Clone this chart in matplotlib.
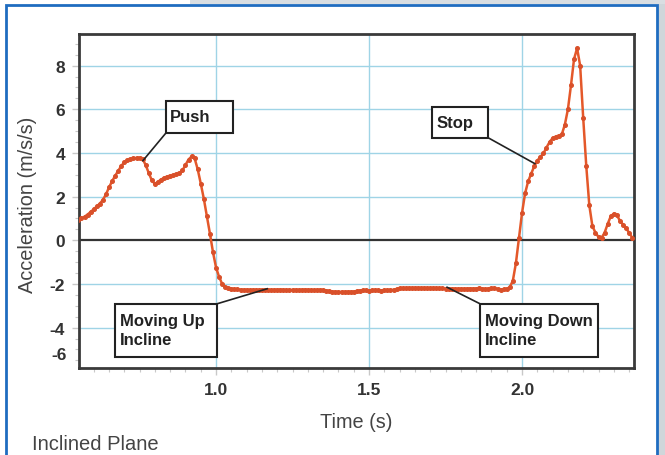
import matplotlib
matplotlib.use("Agg")
import matplotlib.pyplot as plt
from matplotlib.patches import Rectangle
from matplotlib.ticker import MultipleLocator
import matplotlib.transforms as mtransforms

plt.rcParams['font.family'] = ['Liberation Sans', 'DejaVu Sans']

# ---- data (sampled every 0.01 s starting at 0.55 s) ----
t_start = 0.55
t_step = 0.01
accel = [
    0.92, 1.00, 1.08, 1.18, 1.30, 1.42, 1.55, 1.68, 1.85, 2.10,   # 0.55-0.64
    2.42, 2.70, 2.95, 3.18, 3.40, 3.58, 3.66, 3.72, 3.75, 3.77,   # 0.65-0.74
    3.78, 3.72, 3.45, 3.08, 2.75, 2.58, 2.68, 2.78, 2.86, 2.92,   # 0.75-0.84
    2.96, 2.98, 3.02, 3.08, 3.20, 3.45, 3.70, 3.84, 3.75, 3.25,   # 0.85-0.94
    2.60, 1.90, 1.10, 0.30, -0.55, -1.25, -1.68, -2.00, -2.13, -2.19,  # 0.95-1.04
    -2.22, -2.24, -2.25, -2.26, -2.27, -2.27, -2.28, -2.27, -2.27, -2.28,  # 1.05-1.14
    -2.27, -2.26, -2.27, -2.28, -2.27, -2.27, -2.26, -2.27, -2.28, -2.28,  # 1.15-1.24
    -2.27, -2.27, -2.28, -2.27, -2.26, -2.27, -2.28, -2.29, -2.28, -2.27,  # 1.25-1.34
    -2.28, -2.30, -2.34, -2.36, -2.36, -2.37, -2.36, -2.37, -2.36, -2.36,  # 1.35-1.44
    -2.35, -2.33, -2.30, -2.29, -2.29, -2.30, -2.29, -2.28, -2.29, -2.30,  # 1.45-1.54
    -2.29, -2.29, -2.28, -2.27, -2.24, -2.20, -2.19, -2.19, -2.18, -2.19,  # 1.55-1.64
    -2.18, -2.18, -2.19, -2.18, -2.19, -2.19, -2.18, -2.19, -2.20, -2.20,  # 1.65-1.74
    -2.21, -2.21, -2.22, -2.22, -2.23, -2.22, -2.23, -2.22, -2.21, -2.22,  # 1.75-1.84
    -2.21, -2.20, -2.21, -2.24, -2.22, -2.20, -2.19, -2.22, -2.27, -2.25,  # 1.85-1.94
    -2.22, -2.15, -1.85, -1.05, 0.10, 1.25, 2.15, 2.70, 3.05, 3.40,  # 1.95-2.04
    3.65, 3.82, 3.98, 4.25, 4.50, 4.68, 4.75, 4.80, 4.85, 5.30,   # 2.05-2.14
    6.00, 7.10, 8.30, 8.80, 8.00, 5.60, 3.40, 1.60, 0.65, 0.35,   # 2.15-2.24
    0.15, 0.12, 0.35, 0.75, 1.10, 1.22, 1.15, 0.90, 0.72, 0.55,   # 2.25-2.34
    0.35, 0.12,                                                     # 2.35-2.36
]
time = [round(t_start + i * t_step, 2) for i in range(len(accel))]

x_ticks = [1.0, 1.5, 2.0]
x_tick_labels = ["1.0", "1.5", "2.0"]
y_ticks = [-4, -2, 0, 2, 4, 6, 8]
y_tick_labels = ["-4", "-2", "0", "2", "4", "6", "8"]

# callouts: text, pointed data point, box (t0, t1, a0, a1), text anchor, leader start
callout_text = ["Push", "Stop", "Moving Up\nIncline", "Moving Down\nIncline"]
callout_point = [(0.761, 3.65), (2.042, 3.51), (1.167, -2.22), (1.755, -2.15)]
callout_box = [(0.837, 1.056, 4.93, 6.40), (1.706, 1.889, 4.70, 6.12),
               (0.670, 1.003, -5.34, -2.91), (1.863, 2.248, -5.34, -2.91)]
callout_text_pos = [(0.850, 5.67), (1.722, 5.39), (0.686, -4.11), (1.879, -4.11)]
callout_leader_start = [(0.837, 4.93), (1.889, 4.70), (1.003, -2.91), (1.863, -2.91)]

# ---- figure ----
fig = plt.figure(figsize=(6.65, 4.56), dpi=100)
fig.patch.set_facecolor("white")

fig.add_artist(Rectangle((658 / 665, 0), 7 / 665, 1, transform=fig.transFigure,
                         facecolor="#cfd6da", edgecolor="none", zorder=0))
fig.add_artist(Rectangle((190 / 665, 451 / 456), 475 / 665, 5 / 456, transform=fig.transFigure,
                         facecolor="#d9dee2", edgecolor="none", zorder=0))
fig.add_artist(Rectangle((6 / 665, -0.02), 651 / 665, (450 / 456) + 0.02,
                         transform=fig.transFigure, facecolor="none",
                         edgecolor="#1f6cc0", linewidth=2.0, zorder=1))

ax = fig.add_axes([79 / 665, (456 - 369) / 456, (634 - 79) / 665, (369 - 35) / 456])
ax.set_xlim(0.552, 2.366)
ax.set_ylim(-5.85, 9.45)

grid_col = "#9fd4e6"
for xv in x_ticks:
    ax.axvline(xv, color=grid_col, linewidth=1.0, zorder=1)
for yv in y_ticks + [-6]:
    if yv != 0:
        ax.axhline(yv, color=grid_col, linewidth=1.0, zorder=1)
ax.axhline(0, color="#333333", linewidth=1.6, zorder=2)

ax.plot(time, accel, color="#e4582a", linewidth=1.8, marker="o", markersize=2.6,
        markerfacecolor="#d9502a", markeredgecolor="#d9502a", zorder=3)

for sp in ax.spines.values():
    sp.set_color("#3a3a3a")
    sp.set_linewidth(2.0)

ax.set_xticks(x_ticks)
ax.set_xticklabels(x_tick_labels)
ax.set_yticks(y_ticks)
ax.set_yticklabels(y_tick_labels)
ax.xaxis.set_minor_locator(MultipleLocator(0.05))
ax.yaxis.set_minor_locator(MultipleLocator(0.5))
ax.tick_params(axis="both", which="both", direction="out", color="#c8c8c8")
ax.tick_params(axis="both", which="major", length=5, width=1, labelsize=12.5,
               labelcolor="#333333", pad=5)
ax.tick_params(axis="both", which="minor", length=3, width=0.8)
for lab in ax.get_xticklabels() + ax.get_yticklabels():
    lab.set_fontweight("bold")

trans = mtransforms.blended_transform_factory(ax.transAxes, ax.transData)
ax.text(-0.022, -5.25, "-6", transform=trans, ha="right", va="center",
        fontsize=12.5, fontweight="bold", color="#333333")

fig.text(356 / 665, 1 - 423 / 456, "Time (s)", ha="center", va="center",
         fontsize=14.3, color="#444444")
fig.text(28 / 665, 1 - 205 / 456, "Acceleration (m/s/s)", ha="center", va="center",
         rotation=90, fontsize=14.3, color="#444444")
fig.text(32 / 665, 1 - 445 / 456, "Inclined Plane", ha="left", va="center",
         fontsize=14.5, color="#444444")

for txt, (pt, pa), (b0, b1, c0, c1), (tx, ty), (lx, ly) in zip(
        callout_text, callout_point, callout_box, callout_text_pos, callout_leader_start):
    ax.plot([lx, pt], [ly, pa], color="#222222", linewidth=1.2, zorder=4,
            clip_on=False)
    ax.add_patch(Rectangle((b0, c0), b1 - b0, c1 - c0, facecolor="white",
                           edgecolor="#222222", linewidth=1.5, zorder=5,
                           clip_on=False))
    ax.text(tx, ty, txt, ha="left", va="center", fontsize=12, fontweight="bold",
            color="#222222", linespacing=1.3, zorder=6)

fig.savefig("out.png", dpi=100)
